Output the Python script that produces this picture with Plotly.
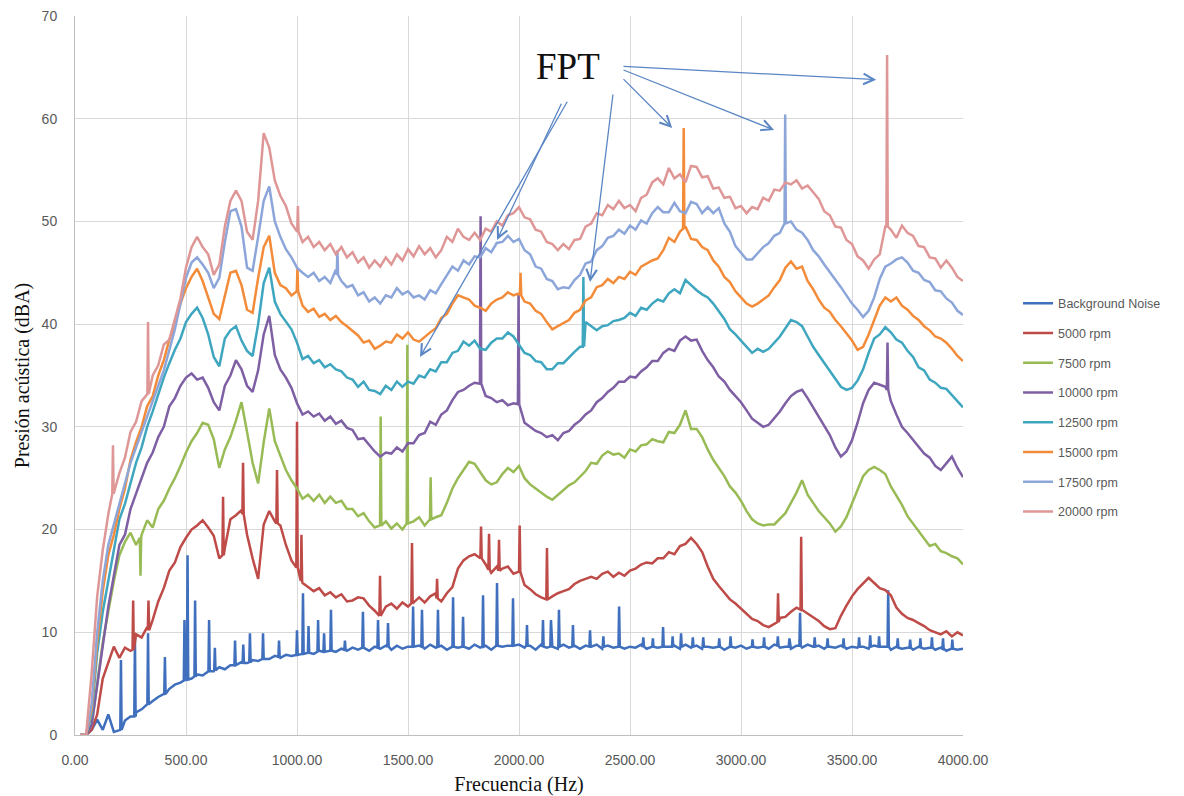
import plotly.graph_objects as go

# Frequency grid of the averaged spectra: 25 Hz bins, 25 .. 4000 Hz
FREQ_STEP = 25
freq = [FREQ_STEP * (i + 1) for i in range(160)]

# Sound pressure level (dBA) per bin; one row per 500 Hz band
background_noise = [
    0, 0, 0.5, 1.5, 0.5, 2, 0.3, 0.5, 1.4, 1.8, 2.2, 2.5, 3, 3.3, 3.7, 4, 4.5, 4.9, 5.1, 5.4,
    5.5, 5.9, 5.8, 6.3, 6.2, 6.6, 6.4, 6.8, 6.7, 7.1, 7, 7.3, 7.2, 7.5, 7.4, 7.7, 7.5, 7.8, 7.7, 7.9,
    7.8, 8.1, 7.9, 8.2, 8, 8.3, 8.1, 8.4, 8.2, 8.5, 8.3, 8.6, 8.2, 8.6, 8.4, 8.7, 8.3, 8.7, 8.4, 8.6,
    8.3, 8.7, 8.4, 8.8, 8.5, 8.7, 8.3, 8.8, 8.5, 8.7, 8.4, 8.8, 8.5, 8.7, 8.3, 8.8, 8.6, 8.7, 8.4, 8.8,
    8.5, 8.7, 8.3, 8.8, 8.5, 8.6, 8.4, 8.8, 8.5, 8.7, 8.4, 8.7, 8.6, 8.8, 8.4, 8.7, 8.5, 8.8, 8.4, 8.6,
    8.5, 8.8, 8.4, 8.7, 8.5, 8.8, 8.6, 8.7, 8.4, 8.8, 8.5, 8.7, 8.4, 8.6, 8.5, 8.7, 8.3, 8.6, 8.5, 8.7,
    8.4, 8.7, 8.5, 8.6, 8.4, 8.8, 8.5, 8.6, 8.4, 8.7, 8.5, 8.8, 8.6, 8.7, 8.4, 8.6, 8.5, 8.7, 8.4, 8.6,
    8.5, 8.6, 8.4, 8.7, 8.5, 8.6, 8.3, 8.6, 8.4, 8.5, 8.3, 8.6, 8.4, 8.5, 8.3, 8.5, 8.2, 8.5, 8.3, 8.4,
]
rpm_5000 = [
    0, 0, 0.5, 2, 5.5, 7, 8.6, 7.5, 8.5, 8.2, 9.8, 9.5, 10.5, 11.2, 13, 14.3, 16, 16.8, 18.3, 19.2,
    20, 20.4, 20.9, 20.2, 19.4, 17.2, 18.2, 21, 21.4, 21.9, 19.5, 17.2, 15.2, 20.5, 21.8, 20.8, 20.4, 18.5, 17, 16.3,
    14.8, 14.4, 14, 14.3, 13.6, 13.9, 13.4, 13.7, 13, 13.1, 13.4, 13.3, 12.6, 12.1, 11.5, 12.5, 12.8, 12.3, 12.9, 12.5,
    12.9, 13.4, 12.9, 13.5, 13.8, 13, 13.8, 14.4, 16.2, 17, 17.4, 17.6, 17.2, 16.6, 15.8, 16.4, 16.2, 16.4, 15.7, 15.9,
    14.6, 14.2, 13.7, 13.4, 13.2, 13.5, 13.8, 14, 14.2, 14.7, 15, 15.2, 15.4, 15.2, 15.7, 15.9, 15.4, 15.8, 15.5, 16,
    16.2, 16.6, 16.8, 16.7, 17.2, 17.2, 17.8, 17.6, 18.4, 18.6, 19.2, 18.6, 17.8, 16.4, 15.2, 14.5, 13.8, 13.2, 12.8, 12.3,
    11.8, 11.3, 11.1, 10.7, 10.5, 10.8, 11.4, 11.5, 12, 12.4, 12.2, 11.8, 11.5, 11.1, 10.6, 10.3, 10.4, 11.6, 12.6, 13.5,
    14.2, 14.8, 15.3, 14.8, 14.3, 14.1, 13.6, 12.4, 11.8, 11.4, 11.2, 10.9, 10.6, 10.2, 10, 9.8, 10.1, 9.6, 10, 9.7,
]
rpm_7500 = [
    0, 0, 1, 5, 9, 12, 15, 17.5, 18.8, 19.7, 18.5, 19.5, 20.9, 20.2, 22, 22.8, 24, 25, 26.2, 27.5,
    28.6, 29.4, 30.4, 30.2, 28.8, 26, 27.8, 29, 30.6, 32.4, 29.5, 26.5, 24.5, 28.5, 31.8, 28.6, 27.2, 25.8, 24.8, 24,
    23, 23.4, 22.8, 23.4, 22.6, 23.2, 22.6, 22.8, 22, 22, 21.3, 21.6, 20.8, 20.2, 20.6, 20.8, 20.1, 20.6, 20, 20.6,
    20.8, 21.2, 20.4, 21.2, 21.2, 21.4, 22.6, 24, 25, 25.8, 26.6, 26.4, 25.6, 24.8, 24.4, 24.6, 25.4, 26, 25.6, 26.2,
    25, 24.4, 24, 23.6, 23.2, 22.9, 23.4, 23.8, 24.3, 24.6, 25.2, 25.7, 26.5, 26.4, 27.2, 27.6, 27.3, 27.4, 27, 27.8,
    27.6, 28.2, 28.3, 28.8, 28.6, 28.5, 29.5, 29.4, 30.2, 31.6, 29.8, 29.8, 29, 27.8, 26.8, 26, 25.2, 24.2, 23.6, 22.8,
    21.8, 21, 20.6, 20.4, 20.5, 20.5, 21, 21.6, 22.6, 23.6, 24.8, 23.4, 22.6, 21.8, 21.2, 20.6, 19.8, 20.3, 21.2, 22.6,
    24, 25.2, 25.8, 26.1, 25.8, 25.4, 24.2, 23.3, 22.4, 21.3, 20.6, 19.8, 19.2, 18.4, 18.6, 17.9, 17.7, 17.4, 17.2, 16.6,
]
rpm_10000 = [
    0, 0, 1, 5, 9, 12.5, 15.5, 18.5, 19.5, 22, 23.5, 25, 26.5, 27.5, 29, 30, 32, 32.8, 34, 34.8,
    35.2, 34.6, 34.8, 33.8, 32.4, 31.6, 34, 35, 36.5, 35.6, 34, 33.4, 35.5, 39, 40.8, 37, 35.6, 34.8, 33.8, 32.3,
    31.2, 31.5, 31, 31.3, 30.6, 31, 30.3, 30.6, 29.9, 29.7, 28.8, 28.9, 28.2, 27.6, 27.1, 27.5, 27.4, 28, 27.6, 28.4,
    28.4, 29.2, 29.4, 30.5, 30.2, 31.2, 31.6, 32.6, 33.4, 33.6, 34, 34.3, 34.4, 33, 32.8, 32.4, 32.6, 32.1, 32.3, 31.6,
    30.4, 30, 29.6, 29.4, 29, 29.2, 28.7, 29.4, 29.6, 30.2, 30.6, 31.2, 31.6, 32.4, 32.8, 33.4, 33.8, 34.4, 34.4, 34.9,
    34.8, 35.4, 35.8, 36.4, 36.4, 37.2, 37.6, 37.4, 38.4, 38.8, 38.4, 38.5, 37.4, 36.5, 35.8, 34.9, 34.4, 33.6, 33, 32.4,
    31.6, 30.8, 30.4, 30, 30.2, 30.8, 31.5, 32.3, 33, 33.4, 33.6, 32.8, 31.9, 31, 30, 29.2, 28, 27.1, 27.6, 28.7,
    30.4, 32.3, 33.6, 34.3, 34.1, 33.9, 32.5, 31.2, 30, 29.4, 28.7, 28.1, 27.4, 27, 26.2, 25.8, 26.4, 27.1, 26, 25.1,
]
rpm_12500 = [
    0, 0, 2, 8, 12, 15, 18, 21, 22.5, 24.5, 26.5, 28, 30, 31.5, 33.2, 34.8, 36.2, 37.5, 38.6, 40.2,
    41, 41.6, 40.6, 39, 36.8, 35.9, 38.6, 39.4, 39.8, 38.4, 37.4, 36.9, 40, 44, 45.5, 42.2, 41, 40.2, 39.5, 38.2,
    36.6, 36.9, 36.2, 36.5, 35.8, 36.1, 35.6, 35.4, 34.8, 34.6, 33.9, 34.4, 33.6, 33.5, 33.2, 34, 33.6, 34.4, 33.9, 34.4,
    34.2, 35, 34.8, 35.6, 35.4, 36.3, 36.3, 37.2, 37.4, 38.3, 37.9, 38.4, 37.6, 37.5, 38.2, 38.6, 38.6, 39.2, 38.8, 38,
    37.2, 37, 36.4, 36.3, 35.6, 35.6, 36.2, 36.2, 36.8, 37.3, 37.8, 40.2, 39.8, 39.4, 39.8, 39.9, 40.3, 40.4, 40.6, 41.1,
    40.8, 41.6, 41.4, 42, 42.4, 42.2, 43, 43.4, 43, 44.3, 43.8, 43.3, 42.9, 42.6, 42, 41.2, 40.5, 39.5, 39, 38.4,
    37.8, 37.2, 37.6, 37.3, 37.6, 38.2, 38.8, 39.6, 40.4, 40.2, 39.8, 38.8, 37.8, 37, 36.2, 35.5, 34.6, 33.9, 33.6, 33.8,
    34.5, 35.6, 37.2, 38.6, 39, 39.7, 39.2, 38.5, 38.2, 37.4, 36.8, 35.8, 35.5, 34.6, 34.3, 33.8, 33.7, 33.1, 32.4, 31.9,
]
rpm_15000 = [
    0, 0, 2.5, 9, 14, 17.5, 19.5, 22, 24, 26.8, 28.5, 30, 32, 33, 35, 36.5, 38.5, 40, 42, 43.5,
    44.6, 45.4, 44.2, 42.5, 41, 40.5, 42.8, 45, 45.2, 43.8, 41.4, 41.1, 44.5, 47.5, 48.6, 45, 43.8, 43.5, 42.8, 43.5,
    41.8, 41.2, 41.5, 40.7, 41, 40.4, 40.8, 40.2, 39.8, 39.3, 38.9, 38.2, 38.4, 37.6, 37.9, 38.3, 38.2, 39, 38.6, 39.2,
    38.5, 38.3, 38.8, 39.2, 39.6, 40.6, 41, 42, 42.8, 42.6, 42.4, 41.8, 41.6, 41.3, 42, 42.4, 42.6, 43.1, 42.8, 43,
    42.2, 42, 41.3, 41, 40.2, 39.5, 39.8, 40.1, 40.4, 41.1, 41.4, 42.3, 42.6, 43.6, 43.8, 44.4, 44, 44.6, 44.4, 45.1,
    44.8, 45.6, 45.9, 46.2, 46.4, 47.2, 48.4, 48, 49, 49.5, 48.3, 48.2, 47.5, 47.2, 46.2, 45.6, 44.6, 44.1, 43.2, 42.6,
    42, 41.7, 42, 42.4, 42.8, 43.6, 44.3, 45.5, 46.1, 45.4, 45.6, 44.2, 43.4, 42.4, 41.6, 41.2, 40.4, 39.8, 39.1, 38.4,
    37.5, 37.8, 39, 40.4, 41.8, 42.6, 42.2, 42.6, 41.8, 41.4, 40.8, 40.4, 39.8, 39.4, 38.8, 38.6, 38.2, 37.6, 36.9, 36.4,
]
rpm_17500 = [
    0, 0, 3, 10, 15, 18.5, 20.5, 22.5, 24.5, 26.5, 28, 29.5, 31, 32.5, 34, 35.5, 37.5, 39.5, 42, 44.5,
    46, 46.5, 45.8, 45, 43.5, 44.5, 48, 51, 51.2, 49.5, 45.5, 45.2, 48.5, 52, 53.4, 50, 48.5, 47.3, 46.5, 45.5,
    45, 44.6, 45, 44.2, 44.6, 44, 45.3, 44.2, 43.6, 43.8, 42.8, 43.1, 42.2, 42.6, 42, 42.8, 42.6, 43.5, 42.9, 43.2,
    42.6, 42.8, 42.4, 43.3, 43, 43.9, 44.8, 45.6, 45.2, 46.2, 45.8, 46.6, 46.5, 47.4, 47, 47.9, 48, 48.6, 48, 48.3,
    47.2, 46.8, 45.6, 45.4, 44.4, 44.2, 43.4, 43.6, 43.5, 44.3, 44.8, 45.9, 46.1, 47.2, 47.6, 48.4, 48.6, 49.2, 48.8, 49.6,
    49.2, 50.1, 49.8, 50.8, 51.4, 50.9, 50.9, 51.8, 51, 50.8, 51.9, 51.7, 50.8, 51.4, 50.8, 51.3, 49.8, 49, 47.6, 46.9,
    46.3, 46.3, 46.9, 47.5, 47.9, 48.6, 48.9, 50.2, 50, 49.2, 48.9, 48.2, 47.2, 46.6, 45.8, 45.1, 44.3, 43.6, 42.8, 42,
    41.4, 40.7, 41.3, 42.6, 44.4, 45.6, 45.9, 46.3, 46.5, 46, 45.2, 45, 44.3, 44.1, 43.3, 43.2, 42.5, 42.1, 41.3, 40.9,
]
rpm_20000 = [
    0, 0, 6, 13.5, 18, 21.5, 23, 25.5, 27, 29.5, 30.5, 32.5, 33, 35, 36, 38, 38.5, 40.5, 42.5, 45.5,
    47.5, 48.5, 47.5, 46.8, 44.8, 45.8, 49.5, 52, 53, 52, 49, 48.2, 52, 58.6, 57.2, 54, 52.5, 51.5, 49.8, 49,
    48, 48.5, 47.5, 48, 47.2, 47.8, 46.8, 47.5, 46.5, 47, 46, 46.5, 45.5, 46.2, 45.6, 46.5, 45.8, 46.8, 46.2, 47.3,
    46.6, 47.6, 46.8, 47.4, 46.5, 47.2, 48.5, 48, 49.3, 48.5, 48.2, 48.9, 48.2, 49.3, 49, 50, 49.6, 50.6, 50.8, 51.4,
    50.4, 50.2, 49.2, 49, 48, 47.8, 47.2, 47.8, 47.3, 48.2, 48.3, 49.5, 49.8, 50.8, 50.6, 51.6, 51.2, 52, 51.3, 51.6,
    51, 52.3, 52.6, 53.8, 54.2, 53.6, 55.2, 54.2, 54.6, 53.8, 55.4, 55.3, 54.3, 54.4, 53.2, 53.3, 52.3, 52.4, 51.3, 51.5,
    50.8, 51.4, 51.2, 52.3, 52, 53.1, 53, 53.8, 53.6, 54, 53.2, 53.5, 52.8, 52.2, 51, 50.6, 49.5, 49.4, 48.2, 47.8,
    46.6, 46.2, 45.4, 46.3, 46.8, 49.5, 49.2, 48.4, 49.6, 48.9, 48.6, 47.6, 47.5, 46.5, 46.4, 45.5, 46.2, 45.5, 44.6, 44.2,
]

# Narrow tonal peaks: (frequency Hz, floor dBA, peak dBA)
tones_background = [
    (207, 0.5, 7.3), (270, 1.8, 9.5), (329, 3.0, 9.9), (405, 4.0, 7.6), (493, 5.3, 11.2),
    (507, 5.4, 17.5), (541, 5.7, 13.1), (604, 6.2, 11.2), (630, 6.3, 8.5), (721, 6.8, 9.2),
    (758, 7.0, 8.8), (788, 7.1, 9.9), (847, 7.4, 9.9), (919, 7.6, 9.2), (1000, 7.8, 10.2),
    (1027, 7.9, 13.8), (1052, 8.0, 10.6), (1095, 8.1, 11.2), (1122, 8.1, 9.9), (1153, 8.2, 12.2),
    (1216, 8.3, 9.2), (1297, 8.5, 12.0), (1365, 8.5, 11.2), (1410, 8.6, 10.9), (1523, 8.6, 12.5),
    (1563, 8.6, 12.2), (1635, 8.6, 12.2), (1703, 8.6, 13.4), (1748, 8.6, 11.5), (1838, 8.6, 13.6),
    (1901, 8.7, 14.8), (1973, 8.7, 13.3), (2036, 8.7, 10.7), (2108, 8.6, 11.2), (2144, 8.6, 11.2),
    (2180, 8.6, 12.2), (2243, 8.6, 10.7), (2320, 8.6, 10.2), (2380, 8.6, 9.6), (2451, 8.6, 12.5),
    (2560, 8.6, 9.5), (2603, 8.6, 9.4), (2649, 8.6, 10.5), (2692, 8.6, 9.6), (2730, 8.6, 9.9),
    (2783, 8.6, 9.5), (2830, 8.6, 9.5), (2902, 8.6, 9.4), (2953, 8.6, 9.6), (3052, 8.6, 9.3),
    (3104, 8.6, 9.5), (3166, 8.7, 9.6), (3218, 8.6, 9.4), (3266, 8.7, 11.9), (3332, 8.6, 9.5),
    (3390, 8.6, 9.4), (3462, 8.6, 9.4), (3532, 8.6, 9.5), (3582, 8.6, 9.7), (3622, 8.6, 9.6),
    (3663, 8.6, 14.1), (3706, 8.5, 9.4), (3762, 8.5, 9.3), (3808, 8.5, 9.4), (3860, 8.5, 9.5),
    (3910, 8.4, 9.4), (3952, 8.4, 9.3),
]
tones_5000 = [
    (262, 8.3, 13.1), (331, 10.2, 13.1), (667, 17.5, 23.2), (757, 21.5, 26.5), (910, 20.6, 25.8),
    (1000, 16.3, 30.5), (1020, 15.0, 19.5), (1374, 11.6, 15.5), (1518, 12.8, 18.7), (1631, 13.3, 15.2),
    (1829, 17.2, 20.3), (1865, 16.1, 19.6), (1910, 16.0, 19.0), (2003, 15.9, 20.4), (2126, 13.2, 18.2),
    (3167, 11.0, 13.8), (3271, 12.2, 19.3),
]
tones_7500 = [(295, 19.2, 15.5), (1377, 20.4, 31.0), (1497, 20.6, 38.0), (1602, 21.0, 25.1)]
tones_10000 = [(1827, 34.2, 50.5), (1998, 32.2, 43.0), (3660, 33.6, 38.2)]
tones_12500 = [(2290, 37.8, 44.6)]
tones_15000 = [(1002, 43.2, 45.5), (2007, 42.8, 45.0), (2742, 49.3, 59.1)]
tones_17500 = [(1182, 44.8, 47.2), (3199, 49.8, 60.4)]
tones_20000 = [(171, 23.5, 28.2), (329, 33.2, 40.2), (1004, 49.0, 51.5), (3658, 49.5, 66.2)]

series_names = [
    "Background Noise", "5000 rpm", "7500 rpm", "10000 rpm",
    "12500 rpm", "15000 rpm", "17500 rpm", "20000 rpm",
]
series_levels = [
    background_noise, rpm_5000, rpm_7500, rpm_10000,
    rpm_12500, rpm_15000, rpm_17500, rpm_20000,
]
series_tones = [
    tones_background, tones_5000, tones_7500, tones_10000,
    tones_12500, tones_15000, tones_17500, tones_20000,
]
series_colors = [
    "#3F6FBD", "#BE4B48", "#98BB55", "#7E5FA4",
    "#3FA6C0", "#F38C3A", "#8DA6DA", "#DE9796",
]

TONE_HALF_WIDTH = 3  # Hz on each side of a tonal peak


def with_tones(levels, tones):
    """Merge the broadband spectrum with its narrow tonal peaks."""
    pts = dict(zip(freq, levels))
    for f0, floor, peak in tones:
        for f in [f for f in pts if abs(f - f0) <= TONE_HALF_WIDTH + 1]:
            del pts[f]
        pts[f0 - TONE_HALF_WIDTH] = floor
        pts[f0] = peak
        pts[f0 + TONE_HALF_WIDTH] = floor
    xs = sorted(pts)
    return xs, [pts[x] for x in xs]


fig = go.Figure()
for name, levels, tones, color in zip(series_names, series_levels, series_tones, series_colors):
    xs, ys = with_tones(levels, tones)
    fig.add_trace(go.Scatter(
        x=xs, y=ys, mode="lines", name=name, legendgroup=name,
        line=dict(color=color, width=2.5),
    ))

# "FPT" label with arrows pointing at the blade-pass tones
ARROW_COLOR = "#5A86C4"
fpt_arrows = [
    # (tail freq, tail dBA, head freq, head dBA)
    (2221, 61.8, 1554, 36.8),
    (2194, 61.6, 1901, 48.2),
    (2424, 62.5, 2320, 44.1),
    (2464, 64.0, 2690, 59.1),
    (2464, 64.8, 3149, 58.9),
    (2464, 65.1, 3609, 63.8),
]
annotations = [dict(
    x=2221, y=65.1, xref="x", yref="y", text="FPT", showarrow=False,
    font=dict(family="Liberation Serif", size=37, color="#111111"),
)]
for tx, ty, hx, hy in fpt_arrows:
    annotations.append(dict(
        x=hx, y=hy, ax=tx, ay=ty, xref="x", yref="y", axref="x", ayref="y",
        text="", showarrow=True, arrowhead=5, arrowsize=1.6, arrowwidth=1.3,
        arrowcolor=ARROW_COLOR, standoff=0, startstandoff=0,
    ))

grid_color = "#D9D9D9"
tick_font = dict(family="Liberation Sans", size=14, color="#595959")
title_font = dict(family="Liberation Serif", size=20, color="#111111")

fig.update_layout(
    width=1184, height=796,
    margin=dict(l=75, r=221, t=16, b=61),
    paper_bgcolor="white", plot_bgcolor="white",
    showlegend=True,
    legend=dict(
        x=1.062, y=0.621, xanchor="left", yanchor="top",
        font=dict(family="Liberation Sans", size=12.5, color="#595959"),
        traceorder="grouped", tracegroupgap=10.5,
        bgcolor="rgba(0,0,0,0)",
    ),
    annotations=annotations,
    xaxis=dict(
        range=[0, 4000], dtick=500, tick0=0, tickformat=".2f",
        showgrid=True, gridcolor=grid_color, gridwidth=1,
        showline=True, linecolor="#BFBFBF", linewidth=1,
        zeroline=False, ticks="", tickfont=tick_font, ticklabelstandoff=12,
        automargin=False,
        title=dict(text="Frecuencia (Hz)", font=title_font, standoff=10),
    ),
    yaxis=dict(
        range=[0, 70], dtick=10, tick0=0,
        showgrid=True, gridcolor=grid_color, gridwidth=1,
        showline=True, linecolor="#BFBFBF", linewidth=1,
        zeroline=False, ticks="", tickfont=tick_font, ticklabelstandoff=14,
        automargin=False,
        title=dict(text="Presión acústica (dBA)", font=title_font, standoff=6),
    ),
)

fig.write_html("out.html")
